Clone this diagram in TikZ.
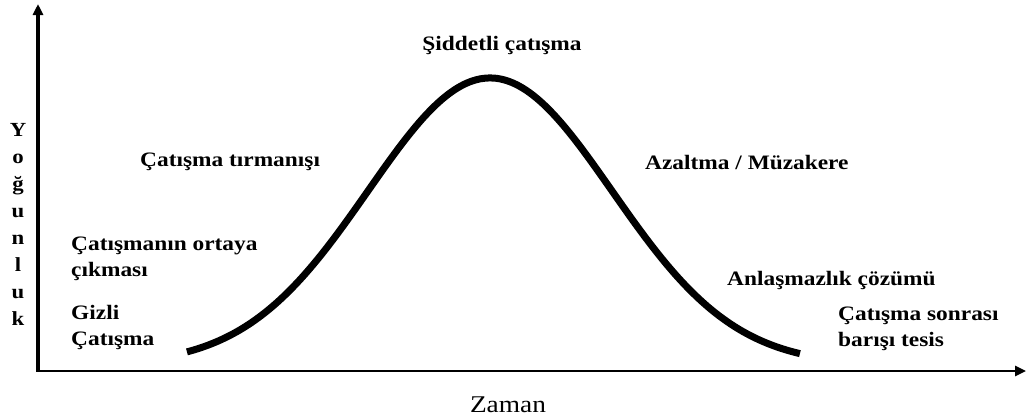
\documentclass[tikz,border=0pt]{standalone}
\usepackage{fontspec}
\setmainfont{Liberation Serif}[FakeStretch=1.14]
\usetikzlibrary{arrows.meta}
\tikzset{
  lbl/.style={font=\bfseries\fontsize{20.5}{26}\selectfont, inner sep=0pt, align=left},
  axis/.style={line width=3.4pt, -{Triangle[width=10pt,length=11pt]}},
  curve/.style={line width=7pt},
}
\begin{document}
\begin{tikzpicture}[x=1pt,y=-1pt]
\useasboundingbox (0,0) rectangle (1027,418);
\coordinate (O) at (38,371);
\coordinate (ytop) at (38,4);
\coordinate (xend) at (1026,371);
\draw[axis] (O) -- (ytop);
\draw[axis, line width=2.6pt] (36,371) -- (xend);
\draw[curve] plot[domain=-2.484:2.541, samples=120, smooth] ({490+122*\x}, {365-287*exp(-0.5*\x*\x)});
\node[lbl, anchor=center] (sid) at (502,45) {Şiddetli çatışma};
\node[lbl, anchor=west] (tir) at (140,162) {Çatışma tırmanışı};
\node[lbl, anchor=west] (azm) at (645,163) {Azaltma / Müzakere};
\node[lbl, anchor=west] (ort) at (71,259) {Çatışmanın ortaya\\çıkması};
\node[lbl, anchor=west] (giz) at (71,327) {Gizli\\Çatışma};
\node[lbl, anchor=west] (anl) at (727,280) {Anlaşmazlık çözümü};
\node[lbl, anchor=west] (son) at (838,329) {Çatışma sonrası\\barışı tesis};
\node[font=\fontsize{24}{26}\selectfont, inner sep=0pt] (zam) at (508,405) {Zaman};
\node[font=\bfseries\fontsize{20}{27}\selectfont, inner sep=0pt, align=center] (yog) at (18,224) {Y\\o\\ğ\\u\\n\\l\\u\\k};
\end{tikzpicture}
\end{document}
